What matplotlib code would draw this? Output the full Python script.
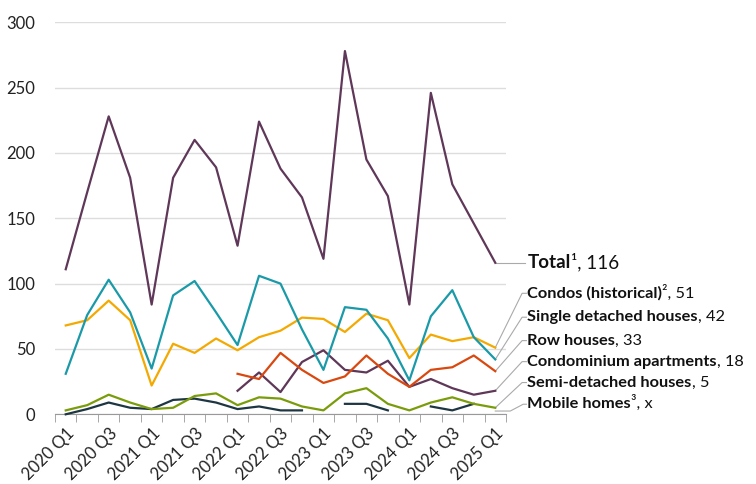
import numpy as np
import matplotlib
matplotlib.use("Agg")
import matplotlib.pyplot as plt

plt.rcParams['font.family'] = ['Lato', 'DejaVu Sans']

quarters = [f"{y} Q{q}" for y in range(2020, 2026) for q in range(1, 5)][:21]
nan = np.nan

total = [111, 170, 228, 181, 84, 181, 210, 189, 129, 224, 188, 166, 119, 278, 195, 167, 84, 246, 176, 146, 116]
condos_hist = [68, 72, 87, 72, 22, 54, 47, 58, 49, 59, 64, 74, 73, 63, 77, 72, 43, 61, 56, 59, 51]
single_det = [31, 76, 103, 78, 35, 91, 102, 78, 53, 106, 100, 65, 34, 82, 80, 58, 26, 75, 95, 59, 42]
row_houses = [nan]*8 + [31, 27, 47, 34, 24, 29, 45, 31, 21, 34, 36, 45, 33]
condo_apts = [nan]*8 + [18, 32, 17, 40, 49, 34, 32, 41, 21, 27, 20, 15, 18]
semi_det = [3, 7, 15, 9, 4, 5, 14, 16, 7, 13, 12, 6, 3, 16, 20, 8, 3, 9, 13, 8, 5]
mobile = [0, 4, 9, 5, 4, 11, 12, 9, 4, 6, 3, 3, nan, 8, 8, 3, nan, 6, 3, 8, nan]

series = [
    ("Total", "\u00b9, 116", total, "#5f3758", 116, 13.5),
    ("Condos (historical)", "\u00b2, 51", condos_hist, "#f4a900", 92.6, 11.8),
    ("Single detached houses", ", 42", single_det, "#1a9aa8", 74.3, 11.8),
    ("Row houses", ", 33", row_houses, "#d9480f", 56.4, 11.8),
    ("Condominium apartments", ", 18", condo_apts, "#5f3758", 40.3, 11.8),
    ("Semi-detached houses", ", 5", semi_det, "#7a9c0a", 24.3, 11.8),
    ("Mobile homes", "\u00b3, x", mobile, "#1e3642", 7.7, 11.8),
]

fig = plt.figure(figsize=(7.56, 4.84), dpi=100)
ax = fig.add_axes([55/756, 1 - 414.3/484, (506-55)/756, (414.3-22.3)/484])

x = np.arange(len(quarters))
draw_order = [6, 5, 4, 3, 1, 2, 0]
for i in draw_order:
    name, suffix, vals, col, ly, fs = series[i]
    ax.plot(x, vals, color=col, lw=1.6, clip_on=False, zorder=3)

ax.set_xlim(-0.5, 20.5)
ax.set_ylim(0, 300)
ax.set_yticks([0, 50, 100, 150, 200, 250, 300])
ax.grid(axis='y', color='#dddddd', lw=1)
ax.set_axisbelow(True)
for s in ['top', 'right', 'left']:
    ax.spines[s].set_visible(False)
ax.spines['bottom'].set_color('#999999')
ax.tick_params(axis='y', length=0, labelsize=12, labelcolor='#222222', pad=14)

ax.set_xticks(np.arange(-0.5, 21, 1), minor=True)
ax.tick_params(axis='x', which='minor', length=6, color='#999999')
ax.set_xticks(x[::2])
ax.set_xticklabels(quarters[::2], rotation=45, ha='right', rotation_mode='anchor',
                   fontsize=12, color='#222222')
ax.tick_params(axis='x', which='major', length=0, pad=8)

# leaders and labels
gray = '#aaaaaa'
for i, (name, suffix, vals, col, ly, fs) in enumerate(series):
    last = vals[-1]
    if np.isnan(last):
        y0 = 2.5
        xs = [20, 20.7, 21.3, 21.45]
        ys = [y0, y0, ly, ly]
    elif i == 0:
        xs = [20, 21.4]
        ys = [last, ly]
    else:
        xs = [20, 21.25, 21.45]
        ys = [last, ly, ly]
    ax.plot(xs, ys, color=gray, lw=0.8, clip_on=False, zorder=2)
    t1 = ax.text(21.5, ly, name, fontsize=fs, fontweight='bold', color='#111111',
                 va='center', ha='left', clip_on=False)
    ax.annotate(suffix, xy=(1, 0), xycoords=t1, va='bottom', ha='left',
                fontsize=fs, color='#111111', annotation_clip=False)

fig.savefig("out.png", dpi=100)
